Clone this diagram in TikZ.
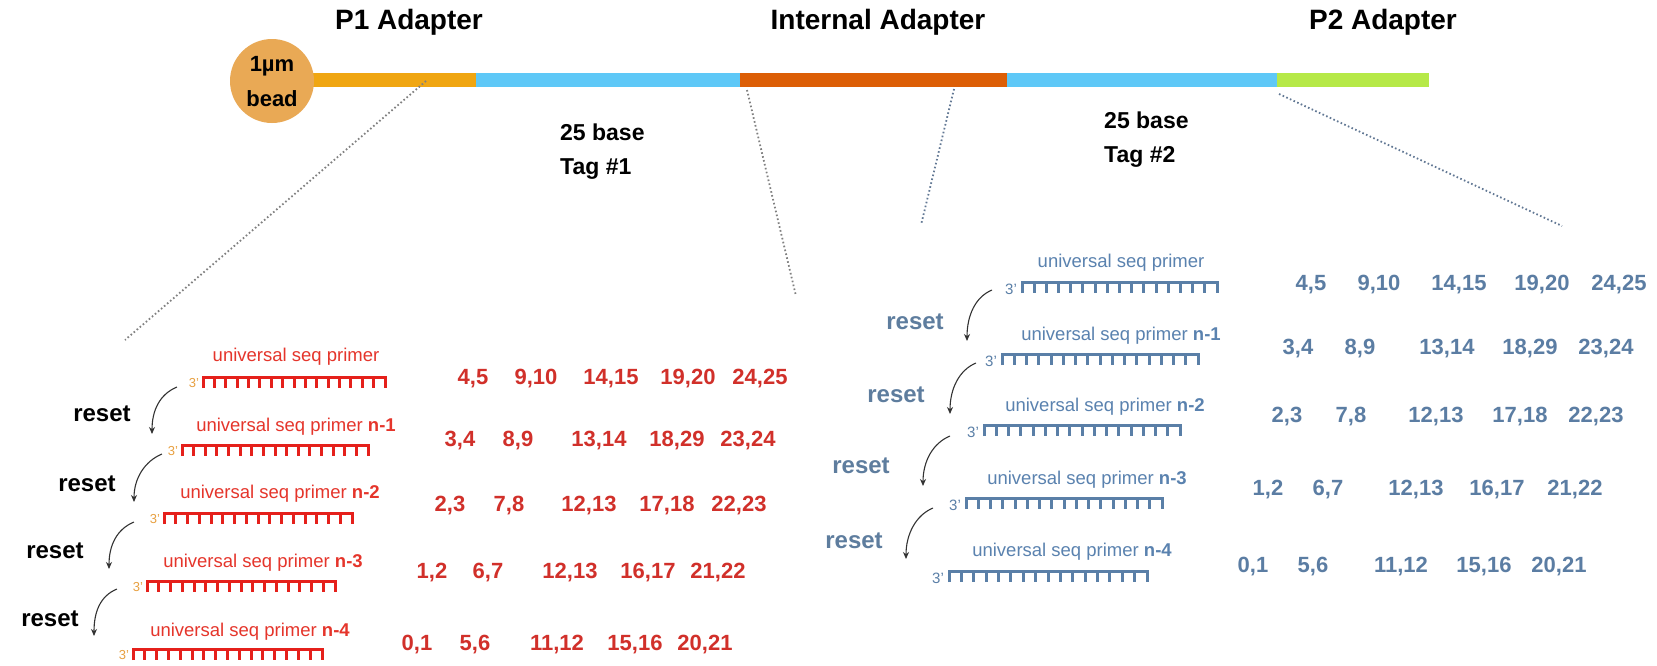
\documentclass[tikz,border=0pt]{standalone}
\usepackage{fontspec}
\setmainfont{Liberation Sans}
\usetikzlibrary{arrows.meta}
\definecolor{p1c}{HTML}{F0A612}
\definecolor{tagc}{HTML}{5EC8F7}
\definecolor{intc}{HTML}{DC5E06}
\definecolor{p2c}{HTML}{B6E948}
\definecolor{beadc}{HTML}{E9A955}
\definecolor{redlab}{HTML}{E5352B}
\definecolor{rednum}{HTML}{D1302A}
\definecolor{redcomb}{HTML}{E5201B}
\definecolor{threec}{HTML}{E8A040}
\definecolor{bluelab}{HTML}{5A82AF}
\definecolor{bluenum}{HTML}{5B7DA3}
\definecolor{bluecomb}{HTML}{5A7FA7}
\definecolor{bluereset}{HTML}{5E7D9E}
\definecolor{dotgray}{HTML}{808080}
\definecolor{dotblue}{HTML}{627894}
\newcommand\combrow[4]{%
  \draw[#4, line width=3pt, line join=miter] (#1,#2+11) -- (#1,#2) -- (#1+#3,#2) -- (#1+#3,#2+11);
  \foreach \k in {1,...,15}{\draw[#4, line width=3pt] (#1+\k*#3/16,#2) -- ++(0,10.5);}
}
\begin{document}
\begin{tikzpicture}[x=1pt,y=-1pt,
  title/.style={font=\fontsize{28}{30}\selectfont\bfseries, inner sep=0},
  tagtxt/.style={font=\fontsize{23}{25}\selectfont\bfseries, inner sep=0, anchor=west},
  beadtxt/.style={font=\fontsize{22}{24}\selectfont\bfseries, inner sep=0},
  lab/.style={font=\fontsize{18.5}{21}\selectfont, inner sep=0},
  num/.style={font=\fontsize{22}{24}\selectfont\bfseries, inner sep=0},
  rst/.style={font=\fontsize{24}{26}\selectfont\bfseries, inner sep=0},
  three/.style={font=\fontsize{13}{14}\selectfont, inner sep=0},
  rarrow/.style={line width=1.1pt, draw=black!80, -{Stealth[length=7pt,width=6pt]}},
  dotl/.style={line width=1.8pt, dash pattern=on 1.6pt off 2.4pt}
]
\useasboundingbox[fill=white] (0,0) rectangle (1657,665);

% ---- construct bar ----
\fill[p1c] (300,73) rectangle (476,87);
\fill[tagc] (476,73) rectangle (740,87);
\fill[intc] (740,73) rectangle (1007,87);
\fill[tagc] (1007,73) rectangle (1277,87);
\fill[p2c] (1277,73) rectangle (1429,87);
\node[circle, fill=beadc, minimum size=84pt, inner sep=0] (bead) at (272,81) {};
\node[beadtxt] (bt1) at (272,66) {1µm};
\node[beadtxt] (bt2) at (272,99) {bead};

\node[title] (tp1) at (409,22) {P1 Adapter};
\node[title] (tint) at (878,22) {Internal Adapter};
\node[title] (tp2) at (1383,22) {P2 Adapter};

\node[tagtxt] (tg1a) at (560,132) {25 base};
\node[tagtxt] (tg1b) at (560,169) {Tag \#1};
\node[tagtxt] (tg2a) at (1104,120) {25 base};
\node[tagtxt] (tg2b) at (1104,157) {Tag \#2};

% ---- dotted zoom lines ----
\coordinate (d1a) at (426,81); \coordinate (d1b) at (125,340);
\coordinate (d2a) at (747,90); \coordinate (d2b) at (796,296);
\coordinate (d3a) at (954,89); \coordinate (d3b) at (921,225);
\coordinate (d4a) at (1279,94); \coordinate (d4b) at (1562,226);
\draw[dotl, dotgray] (d1a) -- (d1b);
\draw[dotl, dotgray] (d2a) -- (d2b);
\draw[dotl, dotblue] (d3a) -- (d3b);
\draw[dotl, dotblue] (d4a) -- (d4b);

% ---- left block (red) ----
\node[lab, text=redlab] (ll1) at (296,357) {universal seq primer};
\node[lab, text=redlab] (ll2) at (296,427) {universal seq primer \textbf{n-1}};
\node[lab, text=redlab] (ll3) at (280,494) {universal seq primer \textbf{n-2}};
\node[lab, text=redlab] (ll4) at (263,563) {universal seq primer \textbf{n-3}};
\node[lab, text=redlab] (ll5) at (250,632) {universal seq primer \textbf{n-4}};
\combrow{203}{377}{182}{redcomb}
\combrow{182}{445}{186}{redcomb}
\combrow{164}{513}{188}{redcomb}
\combrow{147}{581}{188}{redcomb}
\combrow{133}{649}{189}{redcomb}
\node[three, text=threec] (lt1) at (194,383) {3'};
\node[three, text=threec] (lt2) at (173,451) {3'};
\node[three, text=threec] (lt3) at (155,519) {3'};
\node[three, text=threec] (lt4) at (138,587) {3'};
\node[three, text=threec] (lt5) at (124,655) {3'};

\node[rst] (lr1) at (102,414) {reset};
\node[rst] (lr2) at (87,484) {reset};
\node[rst] (lr3) at (55,551) {reset};
\node[rst] (lr4) at (50,619) {reset};
\coordinate (la1s) at (177,387); \coordinate (la1e) at (152,434);
\coordinate (la2s) at (162,454); \coordinate (la2e) at (134,502);
\coordinate (la3s) at (134,522); \coordinate (la3e) at (109,569);
\coordinate (la4s) at (117,589); \coordinate (la4e) at (94,636);
\foreach \a in {1,2,3,4}{\draw[rarrow] (la\a s) .. controls +(-17,7) and +(0,-24) .. (la\a e);}

\node[num, text=rednum] (ln11) at (473,379) {4,5};
\node[num, text=rednum] (ln12) at (536,379) {9,10};
\node[num, text=rednum] (ln13) at (611,379) {14,15};
\node[num, text=rednum] (ln14) at (688,379) {19,20};
\node[num, text=rednum] (ln15) at (760,379) {24,25};
\node[num, text=rednum] (ln21) at (460,441) {3,4};
\node[num, text=rednum] (ln22) at (518,441) {8,9};
\node[num, text=rednum] (ln23) at (599,441) {13,14};
\node[num, text=rednum] (ln24) at (677,441) {18,29};
\node[num, text=rednum] (ln25) at (748,441) {23,24};
\node[num, text=rednum] (ln31) at (450,506) {2,3};
\node[num, text=rednum] (ln32) at (509,506) {7,8};
\node[num, text=rednum] (ln33) at (589,506) {12,13};
\node[num, text=rednum] (ln34) at (667,506) {17,18};
\node[num, text=rednum] (ln35) at (739,506) {22,23};
\node[num, text=rednum] (ln41) at (432,573) {1,2};
\node[num, text=rednum] (ln42) at (488,573) {6,7};
\node[num, text=rednum] (ln43) at (570,573) {12,13};
\node[num, text=rednum] (ln44) at (648,573) {16,17};
\node[num, text=rednum] (ln45) at (718,573) {21,22};
\node[num, text=rednum] (ln51) at (417,645) {0,1};
\node[num, text=rednum] (ln52) at (475,645) {5,6};
\node[num, text=rednum] (ln53) at (557,645) {11,12};
\node[num, text=rednum] (ln54) at (635,645) {15,16};
\node[num, text=rednum] (ln55) at (705,645) {20,21};

% ---- right block (blue) ----
\node[lab, text=bluelab] (rl1) at (1121,263) {universal seq primer};
\node[lab, text=bluelab] (rl2) at (1121,336) {universal seq primer \textbf{n-1}};
\node[lab, text=bluelab] (rl3) at (1105,407) {universal seq primer \textbf{n-2}};
\node[lab, text=bluelab] (rl4) at (1087,480) {universal seq primer \textbf{n-3}};
\node[lab, text=bluelab] (rl5) at (1072,552) {universal seq primer \textbf{n-4}};
\combrow{1022}{282}{195}{bluecomb}
\combrow{1002}{354}{196}{bluecomb}
\combrow{984}{425}{196}{bluecomb}
\combrow{966}{498}{196}{bluecomb}
\combrow{949}{571}{198}{bluecomb}
\node[three, font=\fontsize{15}{16}\selectfont, text=bluecomb] (rt1) at (1011,289) {3'};
\node[three, font=\fontsize{15}{16}\selectfont, text=bluecomb] (rt2) at (991,361) {3'};
\node[three, font=\fontsize{15}{16}\selectfont, text=bluecomb] (rt3) at (973,432) {3'};
\node[three, font=\fontsize{15}{16}\selectfont, text=bluecomb] (rt4) at (955,505) {3'};
\node[three, font=\fontsize{15}{16}\selectfont, text=bluecomb] (rt5) at (938,578) {3'};

\node[rst, text=bluereset] (rr1) at (915,322) {reset};
\node[rst, text=bluereset] (rr2) at (896,395) {reset};
\node[rst, text=bluereset] (rr3) at (861,466) {reset};
\node[rst, text=bluereset] (rr4) at (854,541) {reset};
\coordinate (ra1s) at (992,290); \coordinate (ra1e) at (967,341);
\coordinate (ra2s) at (976,363); \coordinate (ra2e) at (950,414);
\coordinate (ra3s) at (950,436); \coordinate (ra3e) at (923,486);
\coordinate (ra4s) at (933,508); \coordinate (ra4e) at (906,559);
\foreach \a in {1,2,3,4}{\draw[rarrow] (ra\a s) .. controls +(-17,7) and +(0,-25) .. (ra\a e);}

\node[num, text=bluenum] (rn11) at (1311,285) {4,5};
\node[num, text=bluenum] (rn12) at (1379,285) {9,10};
\node[num, text=bluenum] (rn13) at (1459,285) {14,15};
\node[num, text=bluenum] (rn14) at (1542,285) {19,20};
\node[num, text=bluenum] (rn15) at (1619,285) {24,25};
\node[num, text=bluenum] (rn21) at (1298,349) {3,4};
\node[num, text=bluenum] (rn22) at (1360,349) {8,9};
\node[num, text=bluenum] (rn23) at (1447,349) {13,14};
\node[num, text=bluenum] (rn24) at (1530,349) {18,29};
\node[num, text=bluenum] (rn25) at (1606,349) {23,24};
\node[num, text=bluenum] (rn31) at (1287,417) {2,3};
\node[num, text=bluenum] (rn32) at (1351,417) {7,8};
\node[num, text=bluenum] (rn33) at (1436,417) {12,13};
\node[num, text=bluenum] (rn34) at (1520,417) {17,18};
\node[num, text=bluenum] (rn35) at (1596,417) {22,23};
\node[num, text=bluenum] (rn41) at (1268,490) {1,2};
\node[num, text=bluenum] (rn42) at (1328,490) {6,7};
\node[num, text=bluenum] (rn43) at (1416,490) {12,13};
\node[num, text=bluenum] (rn44) at (1497,490) {16,17};
\node[num, text=bluenum] (rn45) at (1575,490) {21,22};
\node[num, text=bluenum] (rn51) at (1253,567) {0,1};
\node[num, text=bluenum] (rn52) at (1313,567) {5,6};
\node[num, text=bluenum] (rn53) at (1401,567) {11,12};
\node[num, text=bluenum] (rn54) at (1484,567) {15,16};
\node[num, text=bluenum] (rn55) at (1559,567) {20,21};
\end{tikzpicture}
\end{document}
